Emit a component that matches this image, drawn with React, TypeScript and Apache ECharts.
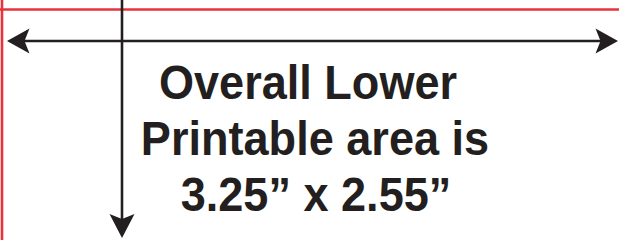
import React, { useEffect, useRef } from "react";
import * as echarts from "echarts";

const textLines = ["Overall Lower", "Printable area is", "3.25\u201d x 2.55\u201d"];
const lineCenters = [308, 315, 316];
const lineMiddles = [82, 138, 194];

const RED = "#e8323c";
const BLACK = "#231f20";

export default function App() {
  const ref = useRef<HTMLDivElement>(null);
  useEffect(() => {
    document.body.style.margin = "0";
    const chart = echarts.init(ref.current!, null, { renderer: "svg" });
    const graphic: any[] = [
      { type: "rect", shape: { x: 0, y: 0, width: 619, height: 240 }, style: { fill: "#ffffff" }, z: 0 },
      // red border lines
      { type: "line", shape: { x1: 2, y1: 0, x2: 2, y2: 240 }, style: { stroke: RED, lineWidth: 2.6 }, z: 1 },
      { type: "line", shape: { x1: 0, y1: 9.5, x2: 619, y2: 9.5 }, style: { stroke: RED, lineWidth: 2.6 }, z: 1 },
      // vertical black arrow
      { type: "line", shape: { x1: 122, y1: 0, x2: 122, y2: 220 }, style: { stroke: BLACK, lineWidth: 2.6 }, z: 2 },
      { type: "polygon", shape: { points: [[122, 238], [109.5, 214], [122, 219], [134.5, 214]] }, style: { fill: BLACK }, z: 2 },
      // horizontal black double arrow
      { type: "line", shape: { x1: 22, y1: 41, x2: 603, y2: 41 }, style: { stroke: BLACK, lineWidth: 2.6 }, z: 2 },
      { type: "polygon", shape: { points: [[7, 41], [29.5, 28.5], [24.5, 41], [29.5, 53.5]] }, style: { fill: BLACK }, z: 2 },
      { type: "polygon", shape: { points: [[618, 41], [595.5, 28.5], [600.5, 41], [595.5, 53.5]] }, style: { fill: BLACK }, z: 2 },
    ];
    textLines.forEach((t, i) => {
      graphic.push({
        type: "text",
        x: lineCenters[i],
        y: lineMiddles[i],
        scaleX: 0.92,
        z: 3,
        style: {
          x: 0,
          y: 0,
          text: t,
          fill: BLACK,
          font: "bold 49px 'Liberation Sans', Arial, sans-serif",
          align: "center",
          verticalAlign: "middle",
        },
      });
    });
    chart.setOption({ animation: false, graphic });
    return () => chart.dispose();
  }, []);
  return <div ref={ref} style={{ width: 619, height: 240 }} />;
}
